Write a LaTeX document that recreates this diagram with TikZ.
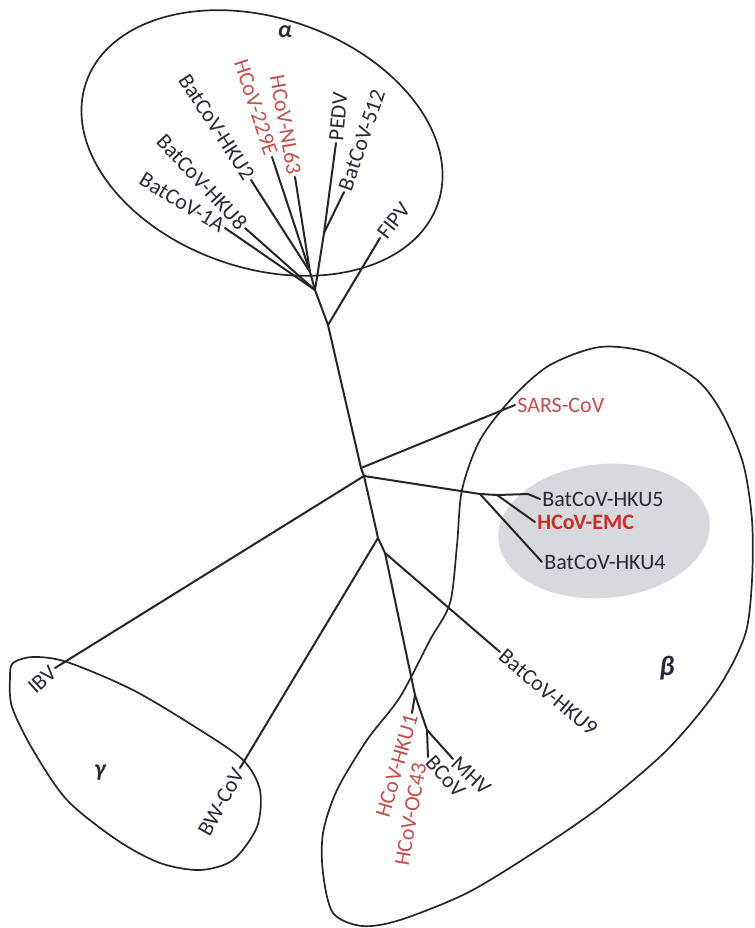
\documentclass[tikz,border=0pt]{standalone}
\usepackage{fontspec}
\setmainfont{Carlito}
\usetikzlibrary{positioning}
\definecolor{cvred}{RGB}{192,80,77}
\definecolor{cvemc}{RGB}{200,45,40}
\definecolor{cvtext}{RGB}{40,40,55}
\definecolor{cvgrey}{RGB}{216,217,220}
\tikzset{
  branch/.style={line width=1pt, draw=black!85, line cap=round, line join=round},
  clade/.style={line width=0.85pt, draw=black!85},
  taxon/.style={font=\fontsize{11}{13}\selectfont, text=cvtext, inner sep=1pt},
  human/.style={taxon, text=cvred},
  genus/.style={font=\fontsize{12}{14}\selectfont\bfseries\itshape, text=cvtext, inner sep=0pt},
}
\begin{document}
\begin{tikzpicture}[x=0.5pt, y=-0.5pt]
  \useasboundingbox (0,0) rectangle (755,928);
  % clades
  \fill[cvgrey, rotate around={5:(604,531)}] (604,531) ellipse [x radius=53pt, y radius=33.5pt];
  \draw[clade, rotate around={-19:(262,143)}] (262,143) ellipse [x radius=93pt, y radius=62.5pt];
  \draw[clade] plot[smooth cycle] coordinates {(600,347) (650,353) (697,380) (722,413) (743,463) (752,520)
    (752,580) (745,635) (717,690) (667,750) (600,807) (533,853) (467,893) (400,920) (362,926) (333,913)
    (323,873) (323,833) (337,790) (367,740) (400,697) (430,640) (450,603) (457,545) (462,490) (480,440)
    (513,397) (550,365)};
  \draw[clade] plot[smooth cycle] coordinates {(13,663) (33,657) (67,662) (133,690) (200,730) (243,760)
    (260,790) (257,827) (233,860) (200,870) (160,863) (117,840) (67,800) (33,750) (12,707) (10,677)};
  \node[genus] (alpha) at (285,32) {α};
  \node[genus, font=\fontsize{14}{16}\selectfont\bfseries\itshape] (beta) at (667,668) {β};
  \node[genus] (gamma) at (100,773) {γ};
  % inner nodes
  \coordinate (a0) at (328,325);
  \coordinate (a1) at (315,290);
  \coordinate (a2) at (310,272);
  \coordinate (a3) at (324,233);
  \coordinate (n1) at (361,468);
  \coordinate (n2) at (364,476);
  \coordinate (n3) at (378,538);
  \coordinate (n4) at (385,553);
  \coordinate (n5) at (415,695);
  \coordinate (n6) at (427,730);
  \coordinate (b1) at (480,494);
  \coordinate (b2) at (497,495);
  \coordinate (b3) at (528,494);
  % tips
  \coordinate (t1A) at (225,228);
  \coordinate (tHKU8) at (245,228);
  \coordinate (tHKU2) at (251,180);
  \coordinate (t229E) at (272,157);
  \coordinate (tNL63) at (295,177);
  \coordinate (tPEDV) at (336,143);
  \coordinate (t512) at (344,192);
  \coordinate (tFIPV) at (380,238);
  \coordinate (tSARS) at (515,405);
  \coordinate (tHKU5) at (540,499);
  \coordinate (tEMC) at (535,522);
  \coordinate (tHKU4) at (542,562);
  \coordinate (tIBV) at (55,668);
  \coordinate (tBW) at (240,768);
  \coordinate (tHKU9) at (500,652);
  \coordinate (tHKU1) at (412,713);
  \coordinate (tBCoV) at (428,757);
  \coordinate (tMHV) at (453,759);
  % branches
  \draw[branch] (a1) -- (a0) -- (n1) -- (n2) -- (n3) -- (n4) -- (n5) -- (n6);
  \draw[branch] (a1) -- (t1A);
  \draw[branch] (a1) -- (tHKU8);
  \draw[branch] (a1) -- (a2) -- (tHKU2);
  \draw[branch] (a2) -- (t229E);
  \draw[branch] (a2) -- (tNL63);
  \draw[branch] (a1) -- (a3) -- (tPEDV);
  \draw[branch] (a3) -- (t512);
  \draw[branch] (a0) -- (tFIPV);
  \draw[branch] (n1) -- (tSARS);
  \draw[branch] (n2) -- (b1) -- (b2) -- (b3) -- (tHKU5);
  \draw[branch] (b2) -- (tEMC);
  \draw[branch] (b1) -- (tHKU4);
  \draw[branch] (n2) -- (tIBV);
  \draw[branch] (n3) -- (tBW);
  \draw[branch] (n4) -- (tHKU9);
  \draw[branch] (n5) -- (tHKU1);
  \draw[branch] (n6) -- (tBCoV);
  \draw[branch] (n6) -- (tMHV);
  % labels
  \node[taxon, anchor=east, rotate=-31] (l1A) at (t1A) {BatCoV-1A};
  \node[taxon, anchor=east, rotate=-47] (lHKU8) at (tHKU8) {BatCoV-HKU8};
  \node[taxon, anchor=east, rotate=-57] (lHKU2) at (tHKU2) {BatCoV-HKU2};
  \node[human, anchor=east, rotate=-72] (l229E) at (t229E) {HCoV-229E};
  \node[human, anchor=east, rotate=-80] (lNL63) at (tNL63) {HCoV-NL63};
  \node[taxon, anchor=west, rotate=85] (lPEDV) at (tPEDV) {PEDV};
  \node[taxon, anchor=west, rotate=71] (l512) at (t512) {BatCoV-512};
  \node[taxon, anchor=west, rotate=52] (lFIPV) at (tFIPV) {FIPV};
  \node[human, anchor=west] (lSARS) at (tSARS) {SARS-CoV};
  \node[taxon, anchor=west] (lHKU5) at (tHKU5) {BatCoV-HKU5};
  \node[human, anchor=west, font=\fontsize{11}{13}\selectfont\bfseries, text=cvemc] (lEMC) at (tEMC) {HCoV-EMC};
  \node[taxon, anchor=west] (lHKU4) at (tHKU4) {BatCoV-HKU4};
  \node[taxon, anchor=east, rotate=42] (lIBV) at (tIBV) {IBV};
  \node[taxon, anchor=east, rotate=61] (lBW) at (tBW) {BW-CoV};
  \node[taxon, anchor=west, rotate=-40] (lHKU9) at (tHKU9) {BatCoV-HKU9};
  \node[human, anchor=east, rotate=74] (lHKU1) at (tHKU1) {HCoV-HKU1};
  \node[human, anchor=east, rotate=80] (lOC43) at (420,761) {HCoV-OC43};
  \node[taxon, anchor=west, rotate=-48] (lBCoV) at (tBCoV) {BCoV};
  \node[taxon, anchor=west, rotate=-43] (lMHV) at (tMHV) {MHV};
\end{tikzpicture}
\end{document}
